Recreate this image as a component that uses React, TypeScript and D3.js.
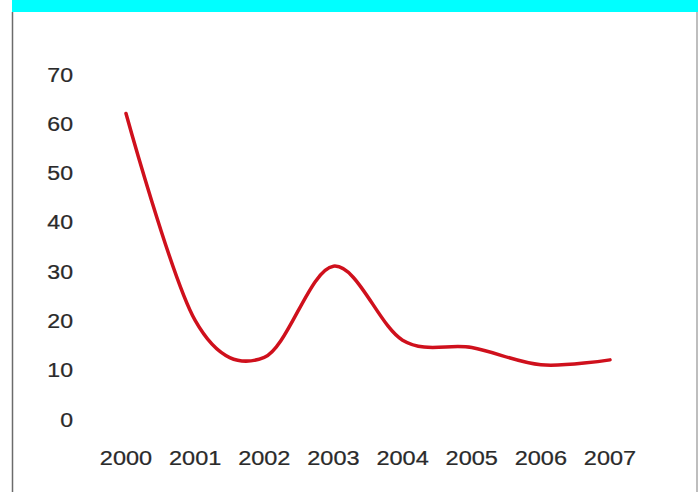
import React from "react";
import * as d3 from "d3";

// Yearly values plotted as a smoothed line
const years = ["2000", "2001", "2002", "2003", "2004", "2005", "2006", "2007"];
const values = [62, 20, 12.5, 31, 16, 14.5, 11, 12];
const yTicks = [0, 10, 20, 30, 40, 50, 60, 70];

const W = 699;
const H = 492;

export default function App() {
  const x = d3.scalePoint<string>().domain(years).range([126, 610]);
  const y = d3.scaleLinear().domain([0, 70]).range([419, 74]);

  const line = d3
    .line<number>()
    .x((_, i) => x(years[i]) as number)
    .y((d) => y(d))
    .curve(d3.curveCardinal.tension(0));

  const font = "Arial, 'Liberation Sans', Helvetica, sans-serif";

  return (
    <svg
      width={W}
      height={H}
      style={{ position: "absolute", left: 0, top: 0, background: "#ffffff" }}
    >
      <rect x={12} y={0} width={686} height={12} fill="#00ffff" />
      <line x1={12.5} y1={12} x2={12.5} y2={H} stroke="#6b6b6b" strokeWidth={1.5} />
      <line x1={697} y1={12} x2={697} y2={H} stroke="#a8a8a8" strokeWidth={1.5} />

      <g fontFamily={font} fontSize={21} fill="#2a2a2a" stroke="#2a2a2a" strokeWidth={0.25}>
        {yTicks.map((t) => (
          <text
            key={t}
            x={0}
            y={0}
            textAnchor="end"
            transform={`translate(73, ${y(t) + 7.5}) scale(1.1, 1)`}
          >
            {t}
          </text>
        ))}
        {years.map((yr) => (
          <text
            key={yr}
            x={0}
            y={0}
            textAnchor="middle"
            transform={`translate(${x(yr)}, 465) scale(1.12, 1)`}
          >
            {yr}
          </text>
        ))}
      </g>

      <path
        d={line(values) ?? ""}
        fill="none"
        stroke="#cf101c"
        strokeWidth={3.5}
        strokeLinecap="round"
        strokeLinejoin="round"
      />
    </svg>
  );
}
